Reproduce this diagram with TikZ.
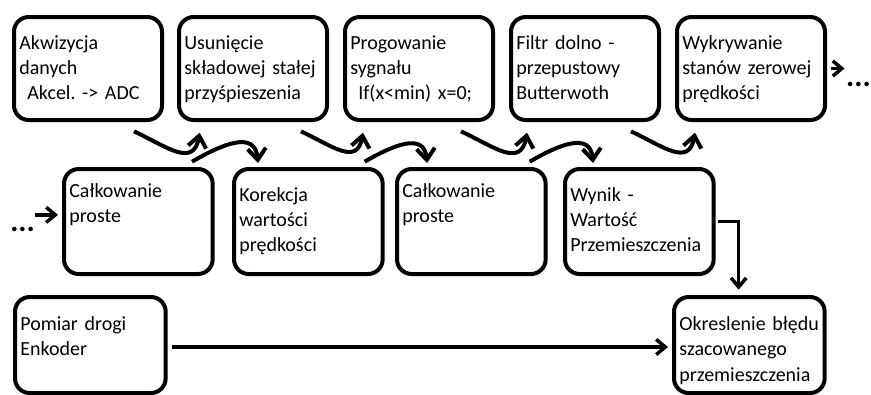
\documentclass[tikz,border=0pt]{standalone}
\usepackage{fontspec}
\setmainfont{Carlito}
\usetikzlibrary{arrows.meta}

\begin{document}
\frenchspacing
\begin{tikzpicture}[x=0.75pt, y=-0.75pt,
  stage/.style={draw, line width=3pt, rounded corners=11pt, anchor=north west, align=left, inner xsep=4pt, inner ysep=0pt, font=\fontsize{15}{19pt}\selectfont},
  toprow/.style={stage, text width=103pt, text height=24pt, text depth=53.25pt},
  midrow/.style={stage, text width=103.5pt, text height=#1, text depth=78.75pt-#1},
  midrow/.default=21pt,
  lowrow/.style={stage, text width=105pt, text height=25pt, text depth=47pt},
  curvearrow/.style={line width=3pt, -{Straight Barb[length=3mm, width=4.8mm]}},
  link/.style={line width=2.6pt, -{Straight Barb[length=2.4mm, width=4mm]}},
  ellip/.style={inner sep=0pt, font=\fontsize{23}{23}\selectfont\bfseries}
]
  \useasboundingbox (0,0) rectangle (871,394);

  % gorny rzad
  \node[toprow] (akw) at (12,15) {Akwizycja\\danych\\\hspace{6pt}Akcel. -> ADC};
  \node[toprow] (usu) at (177,15) {Usunięcie\\składowej stałej\\przyśpieszenia};
  \node[toprow] (pro) at (343,15) {Progowanie\\sygnału\\\hspace{6pt}If(x<min) x=0;};
  \node[toprow] (fil) at (509,15) {Filtr dolno -\\przepustowy\\Butterwoth};
  \node[toprow] (wyk) at (675,15) {Wykrywanie\\stanów zerowej\\prędkości};

  % srodkowy rzad
  \node[midrow] (cal1) at (62,167) {Całkowanie\\proste};
  \node[midrow=24pt] (kor) at (232,167) {Korekcja\\wartości\\prędkości};
  \node[midrow] (cal2) at (395,167) {Całkowanie\\proste};
  \node[midrow=24pt] (wyn) at (563,167) {Wynik -\\Wartość\\Przemieszczenia};

  % dolny rzad
  \node[lowrow] (pom) at (13,295) {Pomiar drogi\\Enkoder};
  \node[lowrow] (okr) at (672,295) {Okreslenie błędu\\szacowanego\\przemieszczenia};

  \node[ellip, anchor=west] (wej) at (10,229) {...};
  \node[ellip, anchor=east] (wyj) at (871,84) {...};

  % strzalki
  \draw[curvearrow] ([xshift=-22.5pt,yshift=-7pt]akw.south east) to[out=-25,in=-100,looseness=1.4] ([xshift=17pt,yshift=-8pt]usu.south west);
  \draw[curvearrow] ([xshift=-21pt,yshift=-7pt]usu.south east) to[out=-25,in=-100,looseness=1.4] ([xshift=15pt,yshift=-8pt]pro.south west);
  \draw[curvearrow] ([xshift=-25.5pt,yshift=-7pt]pro.south east) to[out=-25,in=-100,looseness=1.4] ([xshift=13.5pt,yshift=-8pt]fil.south west);
  \draw[curvearrow] ([xshift=-22.5pt,yshift=-7pt]fil.south east) to[out=-25,in=-100,looseness=1.4] ([xshift=15pt,yshift=-8pt]wyk.south west);

  \draw[curvearrow] ([xshift=-17pt,yshift=4pt]cal1.north east) to[out=30,in=95,looseness=1.3] ([xshift=19.5pt,yshift=3pt]kor.north west);
  \draw[curvearrow] ([xshift=-15pt,yshift=4pt]kor.north east) to[out=30,in=95,looseness=1.3] ([xshift=24pt,yshift=3pt]cal2.north west);
  \draw[curvearrow] ([xshift=-13.5pt,yshift=4pt]cal2.north east) to[out=30,in=95,looseness=1.3] ([xshift=22.5pt,yshift=3pt]wyn.north west);

  \draw[link] ([yshift=5pt]cal1.west -| wej.east) -- ([xshift=-3pt,yshift=5pt]cal1.west);
  \draw[link] ([xshift=3pt]wyk.east) -- ([xshift=-1pt]wyk.east -| wyj.west);
  \draw[link] ([xshift=2pt]wyn.east) -| ([xshift=-8pt,yshift=4pt]okr.north);
  \draw[link, shorten <=3pt, shorten >=3pt] ([yshift=-1.5pt]pom.east) -- ([yshift=-1.5pt]pom.east -| okr.west);
\end{tikzpicture}
\end{document}
